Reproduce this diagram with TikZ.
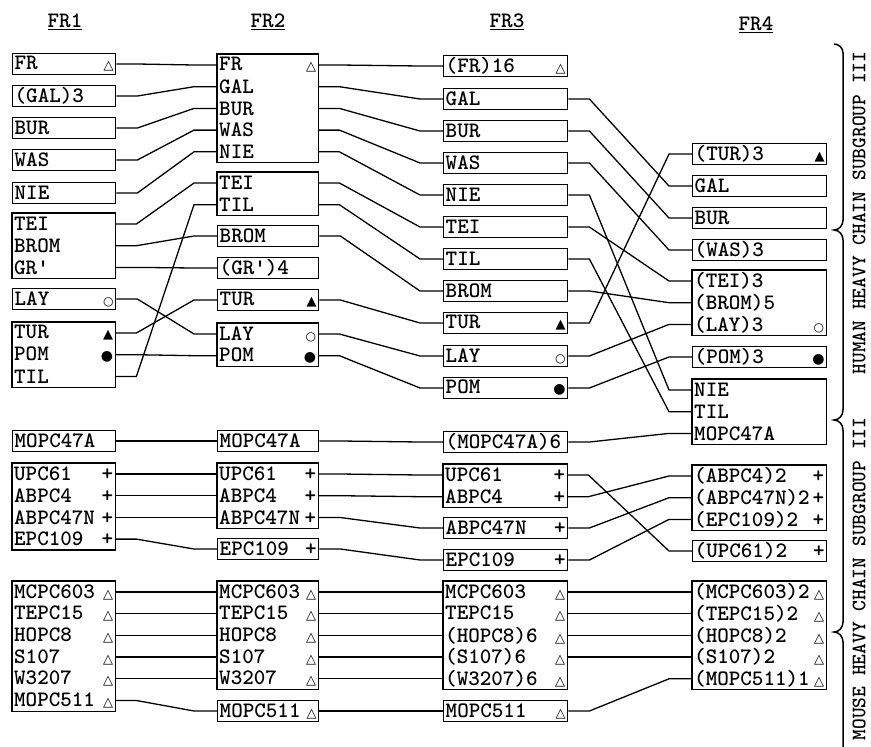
\documentclass[tikz,border=0pt]{standalone}
\usepackage{fontspec}
\usepackage{tikz}
\usetikzlibrary{positioning,fit,calc}
\newfontfamily\symf{DejaVu Sans}
\newcommand{\tw}{\ttfamily\bfseries}
\newcommand{\mk}[1]{\nobreak\hskip 0pt plus 1fill\relax#1}
\newcommand{\otri}{\mk{{\symf\fontsize{13}{13}\selectfont △}}}
\newcommand{\ftri}{\mk{{\symf\fontsize{13}{13}\selectfont ▲}}}
\newcommand{\ocir}{\mk{{\symf\fontsize{12}{12}\selectfont ○}}}
\newcommand{\fcir}{\mk{{\symf\fontsize{14}{14}\selectfont ●}}}
\newcommand{\pls}{\mk{+}}

\begin{document}
\begin{tikzpicture}[x=1pt, y=-1pt,
  row/.style={anchor=west, inner xsep=2pt, inner ysep=0pt, minimum height=21.3pt,
    font=\tw\fontsize{22}{22}\selectfont, align=left},
  c1/.style={row, text width=99pt}, c2/.style={row, text width=97pt},
  c3/.style={row, text width=120pt}, c4/.style={row, text width=130pt},
  cell/.style={draw, line width=1.4pt},
  grp/.style={draw, line width=1.4pt, inner sep=0pt},
  link/.style={line width=1.3pt,
    to path={-- ++(21,0) -- ($(\tikztotarget)+(-23,0)$) -- (\tikztotarget)}},
  hdr/.style={font=\tw\fontsize{22}{22}\selectfont},
  side/.style={rotate=90, font=\tw\fontsize{20.5}{20.5}\selectfont},
  brace/.style={line width=1.5pt}
]
\useasboundingbox (0,0) rectangle (871,747);

% column heads
\node[hdr] (hd1) at (65,22) {\underline{FR1}};
\node[hdr] (hd2) at (268,22) {\underline{FR2}};
\node[hdr] (hd3) at (507,22) {\underline{FR3}};
\node[hdr] (hd4) at (756,25) {\underline{FR4}};

% FR1
\node[c1, cell] (f1fr) at (12,64) {FR\otri};
\node[c1, cell] (f1gal) at (12,96) {(GAL)3};
\node[c1, cell] (f1bur) at (12,128) {BUR};
\node[c1, cell] (f1was) at (12,160) {WAS};
\node[c1, cell] (f1nie) at (12,193) {NIE};
\node[c1] (f1tei) at (12,224) {TEI};
\node[c1, below=0pt of f1tei] (f1brom) {BROM};
\node[c1, below=0pt of f1brom] (f1gr) {GR'};
\node[grp, fit=(f1tei)(f1gr)] (f1b1) {};
\node[c1, cell] (f1lay) at (12,299) {LAY\ocir};
\node[c1] (f1tur) at (12,333) {TUR\ftri};
\node[c1, below=0pt of f1tur] (f1pom) {POM\fcir};
\node[c1, below=0pt of f1pom] (f1til) {TIL};
\node[grp, fit=(f1tur)(f1til)] (f1b2) {};
\node[c1, cell] (f1mo47) at (12,441) {MOPC47A};
\node[c1] (f1upc) at (12,474) {UPC61\pls};
\node[c1, below=0pt of f1upc] (f1abpc4) {ABPC4\pls};
\node[c1, below=0pt of f1abpc4] (f1abpcn) {ABPC47N\pls};
\node[c1, below=0pt of f1abpcn] (f1epc) {EPC109\pls};
\node[grp, fit=(f1upc)(f1epc)] (f1b3) {};
\node[c1] (f1mcpc) at (12,592) {MCPC603\otri};
\node[c1, below=0pt of f1mcpc] (f1tepc) {TEPC15\otri};
\node[c1, below=0pt of f1tepc] (f1hopc) {HOPC8\otri};
\node[c1, below=0pt of f1hopc] (f1s107) {S107\otri};
\node[c1, below=0pt of f1s107] (f1w3207) {W3207\otri};
\node[c1, below=0pt of f1w3207] (f1mo511) {MOPC511\otri};
\node[grp, fit=(f1mcpc)(f1mo511)] (f1b4) {};

% FR2
\node[c2] (f2fr) at (217,65) {FR\otri};
\node[c2, below=0pt of f2fr] (f2gal) {GAL};
\node[c2, below=0pt of f2gal] (f2bur) {BUR};
\node[c2, below=0pt of f2bur] (f2was) {WAS};
\node[c2, below=0pt of f2was] (f2nie) {NIE};
\node[grp, fit=(f2fr)(f2nie)] (f2b1) {};
\node[c2] (f2tei) at (217,183) {TEI};
\node[c2, below=0pt of f2tei] (f2til) {TIL};
\node[grp, fit=(f2tei)(f2til)] (f2b2) {};
\node[c2, cell] (f2brom) at (217,236) {BROM};
\node[c2, cell] (f2gr) at (217,268) {(GR')4};
\node[c2, cell] (f2tur) at (217,300) {TUR\ftri};
\node[c2] (f2lay) at (217,334) {LAY\ocir};
\node[c2, below=0pt of f2lay] (f2pom) {POM\fcir};
\node[grp, fit=(f2lay)(f2pom)] (f2b3) {};
\node[c2, cell] (f2mo47) at (217,441) {MOPC47A};
\node[c2] (f2upc) at (217,474) {UPC61\pls};
\node[c2, below=0pt of f2upc] (f2abpc4) {ABPC4\pls};
\node[c2, below=0pt of f2abpc4] (f2abpcn) {ABPC47N\pls};
\node[grp, fit=(f2upc)(f2abpcn)] (f2b4) {};
\node[c2, cell] (f2epc) at (217,549) {EPC109\pls};
\node[c2] (f2mcpc) at (217,592) {MCPC603\otri};
\node[c2, below=0pt of f2mcpc] (f2tepc) {TEPC15\otri};
\node[c2, below=0pt of f2tepc] (f2hopc) {HOPC8\otri};
\node[c2, below=0pt of f2hopc] (f2s107) {S107\otri};
\node[c2, below=0pt of f2s107] (f2w3207) {W3207\otri};
\node[grp, fit=(f2mcpc)(f2w3207)] (f2b5) {};
\node[c2, cell] (f2mo511) at (217,711) {MOPC511\otri};

% FR3
\node[c3, cell] (f3fr) at (443,66) {(FR)16\otri};
\node[c3, cell] (f3gal) at (443,99) {GAL};
\node[c3, cell] (f3bur) at (443,131) {BUR};
\node[c3, cell] (f3was) at (443,163) {WAS};
\node[c3, cell] (f3nie) at (443,195) {NIE};
\node[c3, cell] (f3tei) at (443,227) {TEI};
\node[c3, cell] (f3til) at (443,259) {TIL};
\node[c3, cell] (f3brom) at (443,291) {BROM};
\node[c3, cell] (f3tur) at (443,323) {TUR\ftri};
\node[c3, cell] (f3lay) at (443,356) {LAY\ocir};
\node[c3, cell] (f3pom) at (443,388) {POM\fcir};
\node[c3, cell] (f3mo47) at (443,442) {(MOPC47A)6};
\node[c3] (f3upc) at (443,475) {UPC61\pls};
\node[c3, below=0pt of f3upc] (f3abpc4) {ABPC4\pls};
\node[grp, fit=(f3upc)(f3abpc4)] (f3b1) {};
\node[c3, cell] (f3abpcn) at (443,528) {ABPC47N\pls};
\node[c3, cell] (f3epc) at (443,560) {EPC109\pls};
\node[c3] (f3mcpc) at (443,592) {MCPC603\otri};
\node[c3, below=0pt of f3mcpc] (f3tepc) {TEPC15\otri};
\node[c3, below=0pt of f3tepc] (f3hopc) {(HOPC8)6\otri};
\node[c3, below=0pt of f3hopc] (f3s107) {(S107)6\otri};
\node[c3, below=0pt of f3s107] (f3w3207) {(W3207)6\otri};
\node[grp, fit=(f3mcpc)(f3w3207)] (f3b2) {};
\node[c3, cell] (f3mo511) at (443,711) {MOPC511\otri};

% FR4
\node[c4, cell] (f4tur) at (692,154) {(TUR)3\ftri};
\node[c4, cell] (f4gal) at (692,186) {GAL};
\node[c4, cell] (f4bur) at (692,218) {BUR};
\node[c4, cell] (f4was) at (692,250) {(WAS)3};
\node[c4] (f4tei) at (692,281) {(TEI)3};
\node[c4, below=0pt of f4tei] (f4brom) {(BROM)5};
\node[c4, below=0pt of f4brom] (f4lay) {(LAY)3\ocir};
\node[grp, fit=(f4tei)(f4lay)] (f4b1) {};
\node[c4, cell] (f4pom) at (692,357) {(POM)3\fcir};
\node[c4] (f4nie) at (692,390) {NIE};
\node[c4, below=0pt of f4nie] (f4til) {TIL};
\node[c4, below=0pt of f4til] (f4mo47) {MOPC47A};
\node[grp, fit=(f4nie)(f4mo47)] (f4b2) {};
\node[c4] (f4abpc4) at (692,476) {(ABPC4)2\pls};
\node[c4, below=0pt of f4abpc4] (f4abpcn) {(ABPC47N)2\pls};
\node[c4, below=0pt of f4abpcn] (f4epc) {(EPC109)2\pls};
\node[grp, fit=(f4abpc4)(f4epc)] (f4b3) {};
\node[c4, cell] (f4upc) at (692,551) {(UPC61)2\pls};
\node[c4] (f4mcpc) at (692,592) {(MCPC603)2\otri};
\node[c4, below=0pt of f4mcpc] (f4tepc) {(TEPC15)2\otri};
\node[c4, below=0pt of f4tepc] (f4hopc) {(HOPC8)2\otri};
\node[c4, below=0pt of f4hopc] (f4s107) {(S107)2\otri};
\node[c4, below=0pt of f4s107] (f4mo511) {(MOPC511)1\otri};
\node[grp, fit=(f4mcpc)(f4mo511)] (f4b4) {};

% connectors
\foreach \a in {fr,gal,bur,was,nie,tei,brom,gr,lay,tur,pom,til,mo47,upc,abpc4,abpcn,epc,mcpc,tepc,hopc,s107,w3207,mo511}
  \draw[link] (f1\a.east) to (f2\a.west);
\foreach \a in {fr,gal,bur,was,nie,tei,til,brom,tur,lay,pom,mo47,upc,abpc4,abpcn,epc,mcpc,tepc,hopc,s107,w3207,mo511}
  \draw[link] (f2\a.east) to (f3\a.west);
\foreach \a in {gal,bur,was,nie,tei,til,brom,tur,lay,pom,mo47,upc,abpc4,abpcn,epc,mcpc,tepc,hopc,s107,mo511}
  \draw[link] (f3\a.east) to (f4\a.west);

% braces and group names
\draw[brace] (834,44) to[out=0,in=90] (843,53) -- (843,220) to[out=-90,in=0] (834,230)
  to[out=0,in=90] (843,240) -- (843,410) to[out=-90,in=0] (834,420)
  to[out=0,in=90] (843,430) -- (843,622) to[out=-90,in=0] (834,632)
  to[out=0,in=90] (843,642) -- (843,747);
\node[side] (hum) at (859,213) {HUMAN HEAVY CHAIN SUBGROUP III};
\node[side] (mou) at (859,579) {MOUSE HEAVY CHAIN SUBGROUP III};
\end{tikzpicture}
\end{document}
